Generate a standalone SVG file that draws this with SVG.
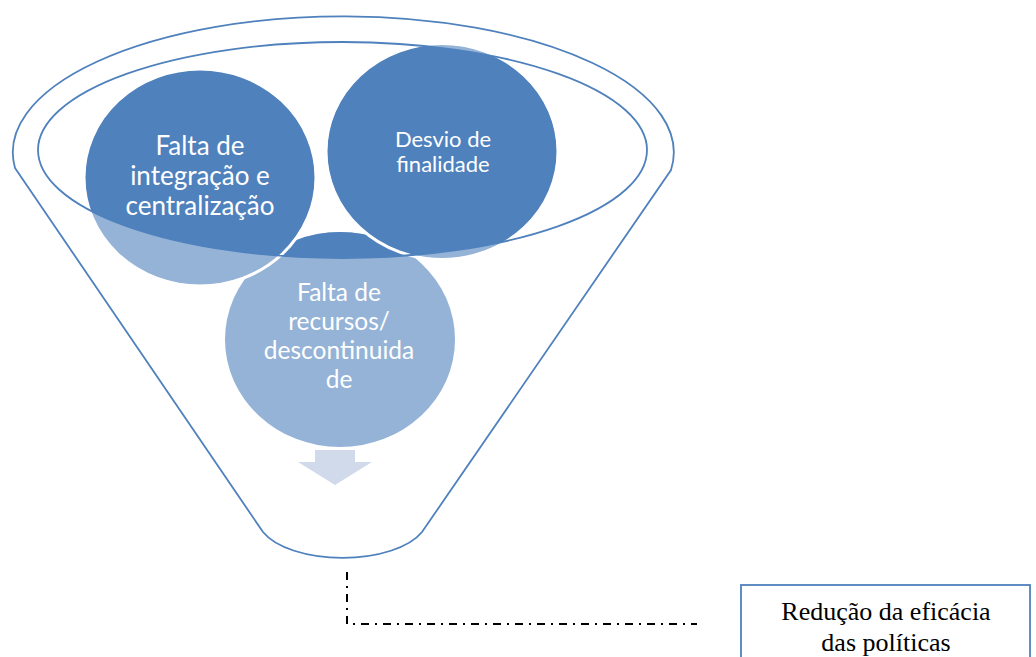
<svg xmlns="http://www.w3.org/2000/svg" width="1036" height="657" viewBox="0 0 1036 657">
  <style>
    .dark { fill: #4F81BD; }
    .light { fill: #95B3D7; }
    .sep { fill: none; stroke: #FFFFFF; stroke-width: 3; }
    .funnel { fill: none; stroke: #4F81BD; stroke-width: 1.8; }
    .lbl { font-family: Lato, "Open Sans", "DejaVu Sans", sans-serif; fill: #FFFFFF; text-anchor: middle; }
    .box { fill: #FFFFFF; stroke: #4F81BD; stroke-width: 1.8; }
    .boxlbl { font-family: "Liberation Serif", "Times New Roman", serif; font-size: 26px; fill: #000000; text-anchor: middle; }
    .conn { fill: none; stroke: #000000; stroke-width: 2; stroke-dasharray: 8 6 2 6; }
  </style>
  <defs>
    <clipPath id="mouth">
      <ellipse cx="342.5" cy="150" rx="304.5" ry="108"/>
    </clipPath>
  </defs>

  <g id="funnel-body">
    <path class="funnel" d="M15,168 L263,532 A85 40 0 0 0 422,532 L671,170 A330.5 136 0 1 0 15,168 Z"/>
  </g>

  <g id="node-recursos">
    <ellipse class="light" cx="340" cy="339.5" rx="115" ry="107.5"/>
    <ellipse class="dark" cx="340" cy="339.5" rx="115" ry="107.5" clip-path="url(#mouth)"/>
    <text class="lbl" font-size="24.5" x="339" y="301">Falta de</text>
    <text class="lbl" font-size="24.5" x="339" y="330">recursos/</text>
    <text class="lbl" font-size="24.5" x="339" y="359">descontinuida</text>
    <text class="lbl" font-size="24.5" x="339" y="388">de</text>
  </g>

  <g id="node-integracao">
    <ellipse class="light" cx="200" cy="177.5" rx="115" ry="107.5"/>
    <ellipse class="dark" cx="200" cy="177.5" rx="115" ry="107.5" clip-path="url(#mouth)"/>
    <ellipse class="sep" cx="200" cy="177.5" rx="116" ry="108.5"/>
    <text class="lbl" font-size="26" x="200" y="155">Falta de</text>
    <text class="lbl" font-size="26" x="200" y="185">integração e</text>
    <text class="lbl" font-size="26" x="200" y="215">centralização</text>
  </g>

  <g id="node-desvio">
    <ellipse class="light" cx="442" cy="151.5" rx="115" ry="107"/>
    <ellipse class="dark" cx="442" cy="151.5" rx="115" ry="107" clip-path="url(#mouth)"/>
    <ellipse class="sep" cx="442" cy="151.5" rx="116" ry="108"/>
    <text class="lbl" font-size="22" x="443" y="147">Desvio de</text>
    <text class="lbl" font-size="22" x="443" y="172">finalidade</text>
  </g>

  <g id="funnel-mouth">
    <ellipse class="funnel" cx="342.5" cy="150" rx="304.5" ry="108"/>
  </g>

  <g id="funnel-arrow">
    <polygon fill="#D0DAEB" points="315,450 355,450 355,462 372,462 335,485 298,462 315,462"/>
  </g>

  <g id="connectors">
    <path class="conn" d="M347,572 V624 H697"/>
  </g>

  <g id="node-reducao">
    <rect class="box" x="741" y="585" width="289" height="90"/>
    <text class="boxlbl" x="886" y="620">Redução da eficácia</text>
    <text class="boxlbl" x="886" y="651">das políticas</text>
  </g>
</svg>
